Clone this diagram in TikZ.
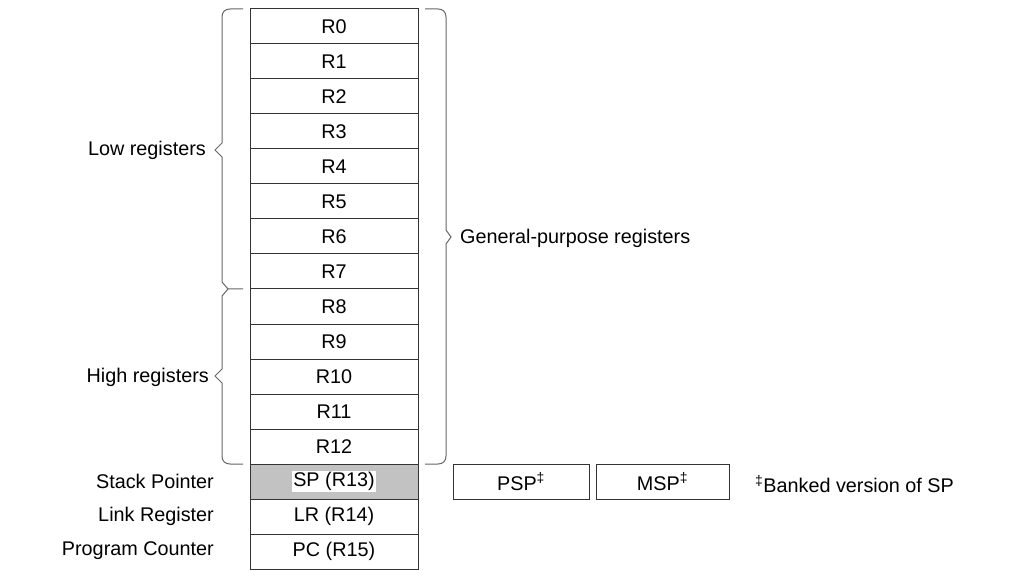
\documentclass[tikz,border=0pt]{standalone}
\usepackage{fontspec}
\setmainfont{Liberation Sans}
\begin{document}
\begin{tikzpicture}[x=1pt,y=-1pt,
  txt/.style={font=\fontsize{19.8}{22}\selectfont},
  reg/.style={txt, draw=black!80, line width=1pt, minimum width=168pt, minimum height=35pt, inner sep=0pt, outer sep=0pt},
  side/.style={reg, minimum width=136pt},
  lbl/.style={txt, inner sep=0pt},
  brace/.style={draw=black!60, line width=1pt}]
\useasboundingbox (0,0) rectangle (1034,580);
\foreach \i in {0,...,12} \node[reg] (r\i) at (334,{26.5+35*\i}) {R\i};
\node[reg, fill=black!24] (sp) at (334,481.5) {};
\node[txt, fill=white, inner sep=1.5pt] (sptext) at (sp) {SP (R13)};
\node[reg] (lr) at (334,516.5) {LR (R14)};
\node[reg] (pc) at (334,551.5) {PC (R15)};
\node[side] (psp) at (521,481.5) {PSP\textsuperscript{‡}};
\node[side, minimum width=133pt] (msp) at (662.5,481.5) {MSP\textsuperscript{‡}};
\node[lbl, anchor=west] (banked) at (755,484) {\textsuperscript{‡}Banked version of SP};
\node[lbl, anchor=east] (low) at (206,150) {Low registers};
\node[lbl, anchor=east] (high) at (209,377) {High registers};
\node[lbl, anchor=east] (splbl) at (214,481) {Stack Pointer};
\node[lbl, anchor=east] (lrlbl) at (214,516) {Link Register};
\node[lbl, anchor=east] (pclbl) at (214,551) {Program Counter};
\node[lbl, anchor=west] (gp) at (460,238) {General-purpose registers};
% braces
\draw[brace] (243,9) -- (230,9) .. controls (225,9) and (222,12) .. (222,17) -- (222,143) -- (215,150) -- (222,157) -- (222,282) -- (228,289) -- (243,289);
\draw[brace] (228,289) -- (222,296) -- (222,369) -- (215,376) -- (222,383) -- (222,456) .. controls (222,461) and (225,464) .. (230,464) -- (243,464);
\draw[brace] (425,9) -- (438,9) .. controls (443,9) and (446,12) .. (446,17) -- (446,230) -- (451,237) -- (446,244) -- (446,456) .. controls (446,461) and (443,464) .. (438,464) -- (425,464);
\end{tikzpicture}
\end{document}
